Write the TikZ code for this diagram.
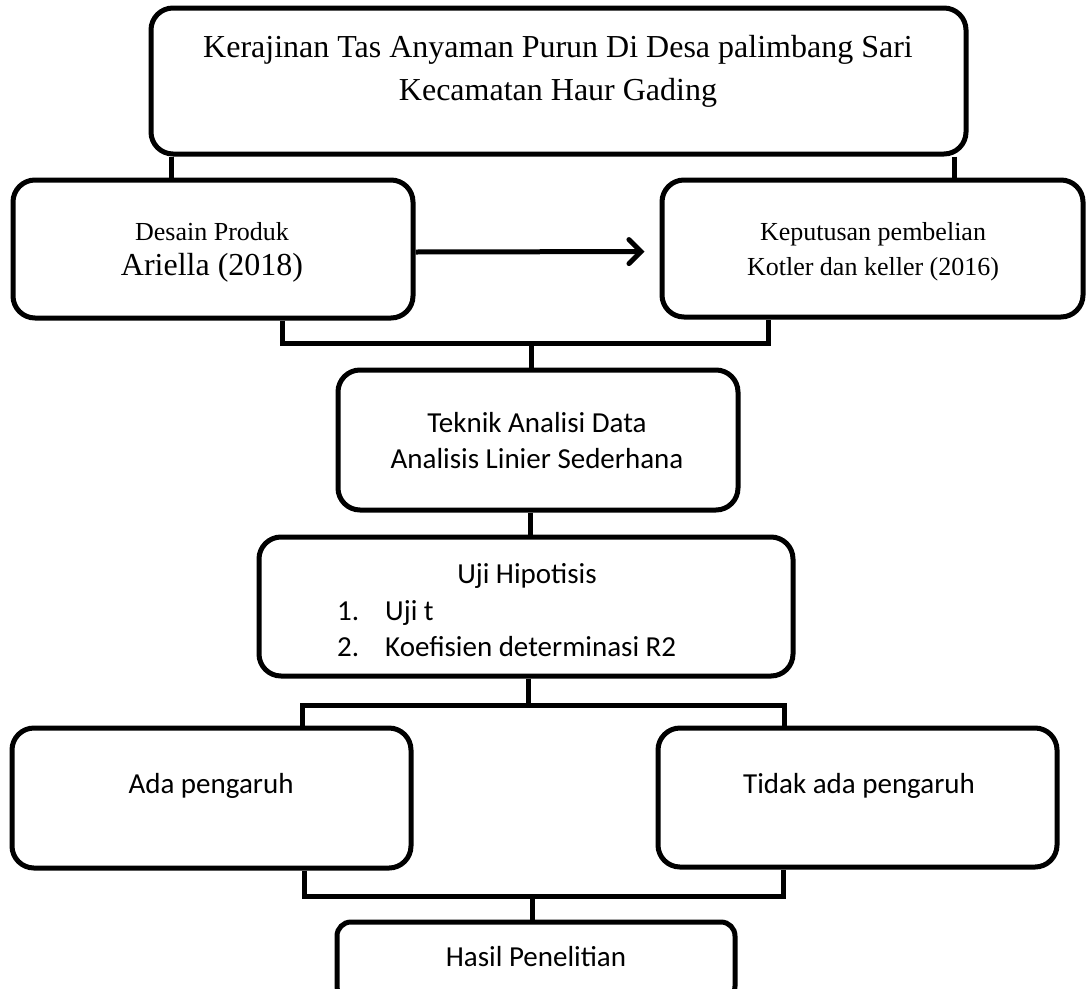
\documentclass[tikz,border=0pt]{standalone}
\usepackage{fontspec}
\setmainfont{Liberation Serif}
\newfontfamily\carl{Carlito}
\usetikzlibrary{arrows.meta}
\begin{document}
\begin{tikzpicture}[x=1pt,y=-1pt,
  box/.style={draw, line width=5pt, rounded corners=22pt, inner sep=0pt},
  smallbox/.style={box, rounded corners=14pt},
  conn/.style={line width=5pt},
  ser/.style={font=\fontsize{26}{30}\selectfont, anchor=base, inner sep=0pt},
  serbig/.style={font=\fontsize{32}{36}\selectfont, anchor=base, inner sep=0pt},
  sans/.style={font=\carl\fontsize{29}{34}\selectfont, anchor=base, inner sep=0pt}]
\useasboundingbox (0,0) rectangle (1086,988);
\clip (0,0) rectangle (1086,988);
% boxes
\node[box, minimum width=815pt, minimum height=146pt] (top) at (558.5,81) {};
\node[box, minimum width=400pt, minimum height=138pt] (left) at (213,249) {};
\node[box, minimum width=421pt, minimum height=137pt] (right) at (872.5,248.5) {};
\node[box, minimum width=400pt, minimum height=140pt] (mid) at (538,440) {};
\node[box, minimum width=534pt, minimum height=139pt] (uji) at (526,606.5) {};
\node[box, minimum width=399pt, minimum height=140pt] (ada) at (211.5,798) {};
\node[box, minimum width=399pt, minimum height=139pt] (tidak) at (857.5,797.5) {};
\node[smallbox, minimum width=398pt, minimum height=78pt] (hasil) at (536,961) {};
% texts
\node[serbig] (t1) at (558,57) {Kerajinan Tas Anyaman Purun Di Desa palimbang Sari};
\node[serbig] (t2) at (558,100) {Kecamatan Haur Gading};
\node[ser] (d1) at (212,240) {Desain Produk};
\node[serbig] (d2) at (212,275) {Ariella (2018)};
\node[ser] (k1) at (873,240) {Keputusan pembelian};
\node[ser] (k2) at (873,275) {Kotler dan keller (2016)};
\node[sans] (m1) at (537,432) {Teknik Analisi Data};
\node[sans] (m2) at (537,468) {Analisis Linier Sederhana};
\node[sans] (u0) at (527,583) {Uji Hipotisis};
\node[sans, anchor=base west] (u1n) at (337,620) {1.};
\node[sans, anchor=base west] (u1) at (385,620) {Uji t};
\node[sans, anchor=base west] (u2n) at (337,656) {2.};
\node[sans, anchor=base west] (u2) at (385,656) {Koefisien determinasi R2};
\node[sans] (a1) at (211,793) {Ada pengaruh};
\node[sans] (b1) at (859,793) {Tidak ada pengaruh};
\node[sans] (h1) at (536,966) {Hasil Penelitian};
% connectors
\draw[conn] ([xshift=23pt]top.south west) -- ([xshift=23pt]top.south west |- left.north);
\draw[conn] ([xshift=-14pt]top.south east) -- ([xshift=-14pt]top.south east |- right.north);
\draw[conn, -{Straight Barb[length=12pt,width=24pt,line cap=round]}, shorten >=15pt] ([yshift=-3pt]left.east) -- ([yshift=-3pt]right.west);
\coordinate (j1) at (531,343);
\draw[conn] ([xshift=272pt]left.south west) |- (j1) -| ([xshift=109pt]right.south west);
\draw[conn] (j1) -- (j1 |- mid.north);
\draw[conn] ([xshift=-8pt]mid.south) -- ([xshift=-8pt]mid.south |- uji.north);
\coordinate (j2) at (528,705);
\draw[conn] (uji.south -| j2) -- (j2);
\draw[conn] ([xshift=293pt]ada.north west) |- (j2) -| ([xshift=129pt]tidak.north west);
\coordinate (j3) at (532,896);
\draw[conn] ([xshift=295pt]ada.south west) |- (j3) -| ([xshift=128pt]tidak.south west);
\draw[conn] (j3) -- (j3 |- hasil.north);
\end{tikzpicture}
\end{document}
